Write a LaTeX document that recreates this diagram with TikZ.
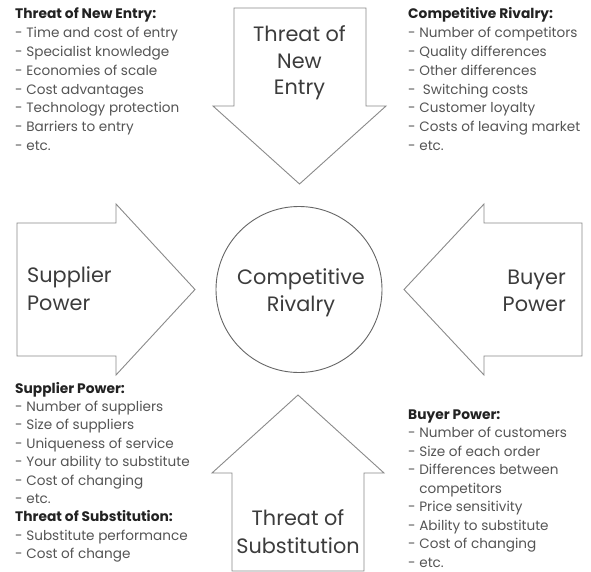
\documentclass[tikz,border=0pt]{standalone}
\usepackage{fontspec}
\setmainfont{Poppins}
\definecolor{outl}{HTML}{8A8A8A}
\definecolor{circl}{HTML}{666666}
\definecolor{bigtxt}{HTML}{3C3C3C}
\definecolor{listtxt}{HTML}{555555}
\definecolor{headtxt}{HTML}{222222}
\begin{document}
\begin{tikzpicture}[x=1pt,y=-1pt,
  forceshape/.style={draw=outl,line width=0.9pt,line join=miter,fill=white},
  bigtext/.style={font=\fontsize{20.8}{26}\selectfont,text=bigtxt,inner sep=0pt,anchor=base},
  headtext/.style={font=\fontsize{13.8}{18}\selectfont\bfseries,text=headtxt,inner sep=0pt,anchor=base west},
  itemtext/.style={font=\fontsize{13.6}{18}\selectfont,text=listtxt,inner sep=0pt,anchor=base west}]
\useasboundingbox (0,0) rectangle (591,572);
\fill[white] (0,0) rectangle (591,572);

% arrows
\draw[forceshape] (234,8) -- (366,8) -- (366,106) -- (386,106) -- (299.5,184) -- (213,106) -- (234,106) -- cycle;
\draw[forceshape] (17,223) -- (116,223) -- (116,204) -- (195,289.5) -- (116,375) -- (116,356) -- (17,356) -- cycle;
\draw[forceshape] (582,223) -- (484,223) -- (484,204) -- (404,289.5) -- (484,375) -- (484,356) -- (582,356) -- cycle;
\draw[forceshape] (232,571) -- (232,473) -- (212,473) -- (298,395) -- (384,473) -- (364,473) -- (364,571) -- cycle;

% centre
\node[draw=circl,line width=0.9pt,circle,minimum size=166pt,inner sep=0pt] (core) at (299,289.5) {};
\node[bigtext] (coreA) at (301,284) {Competitive};
\node[bigtext] (coreB) at (301,311) {Rivalry};

\node[bigtext] (newA) at (299.5,42) {Threat of};
\node[bigtext] (newB) at (299.5,68.5) {New};
\node[bigtext] (newC) at (299.5,95) {Entry};

\node[bigtext,anchor=base west] (supA) at (27,282) {Supplier};
\node[bigtext,anchor=base west] (supB) at (27,310) {Power};

\node[bigtext,anchor=base east] (buyA) at (566,284) {Buyer};
\node[bigtext,anchor=base east] (buyB) at (566,311) {Power};

\node[bigtext] (subA) at (298,525) {Threat of};
\node[bigtext] (subB) at (298,553) {Substitution};

% lists
\node[headtext] (tlh) at (15,19) {Threat of New Entry:};
\foreach \t [count=\i] in {- Time and cost of entry, - Specialist knowledge, - Economies of scale, - Cost advantages, - Technology protection, - Barriers to entry, - etc.}
  \node[itemtext] (tl\i) at (15,{19+18.8*\i}) {\t};

\node[headtext] (trh) at (408,19) {Competitive Rivalry:};
\foreach \t [count=\i] in {- Number of competitors, - Quality differences, - Other differences, -\ \ Switching costs, - Customer loyalty, - Costs of leaving market, - etc.}
  \node[itemtext] (tr\i) at (408,{19+18.8*\i}) {\t};

\node[headtext] (sph) at (15,393) {Supplier Power:};
\foreach \t [count=\i] in {- Number of suppliers, - Size of suppliers, - Uniqueness of service, - Your ability to substitute, - Cost of changing, - etc.}
  \node[itemtext] (sp\i) at (15,{393+18.4*\i}) {\t};
\node[headtext] (tsh) at (15,521.8) {Threat of Substitution:};
\foreach \t [count=\i] in {- Substitute performance, - Cost of change}
  \node[itemtext] (ts\i) at (15,{521.8+18.4*\i}) {\t};

\node[headtext] (bph) at (408,419) {Buyer Power:};
\foreach \t [count=\i] in {- Number of customers, - Size of each order, - Differences between, {\hphantom{- }competitors}, - Price sensitivity, - Ability to substitute, - Cost of changing, - etc.}
  \node[itemtext] (bp\i) at (408,{419+18.5*\i}) {\t};
\end{tikzpicture}
\end{document}
